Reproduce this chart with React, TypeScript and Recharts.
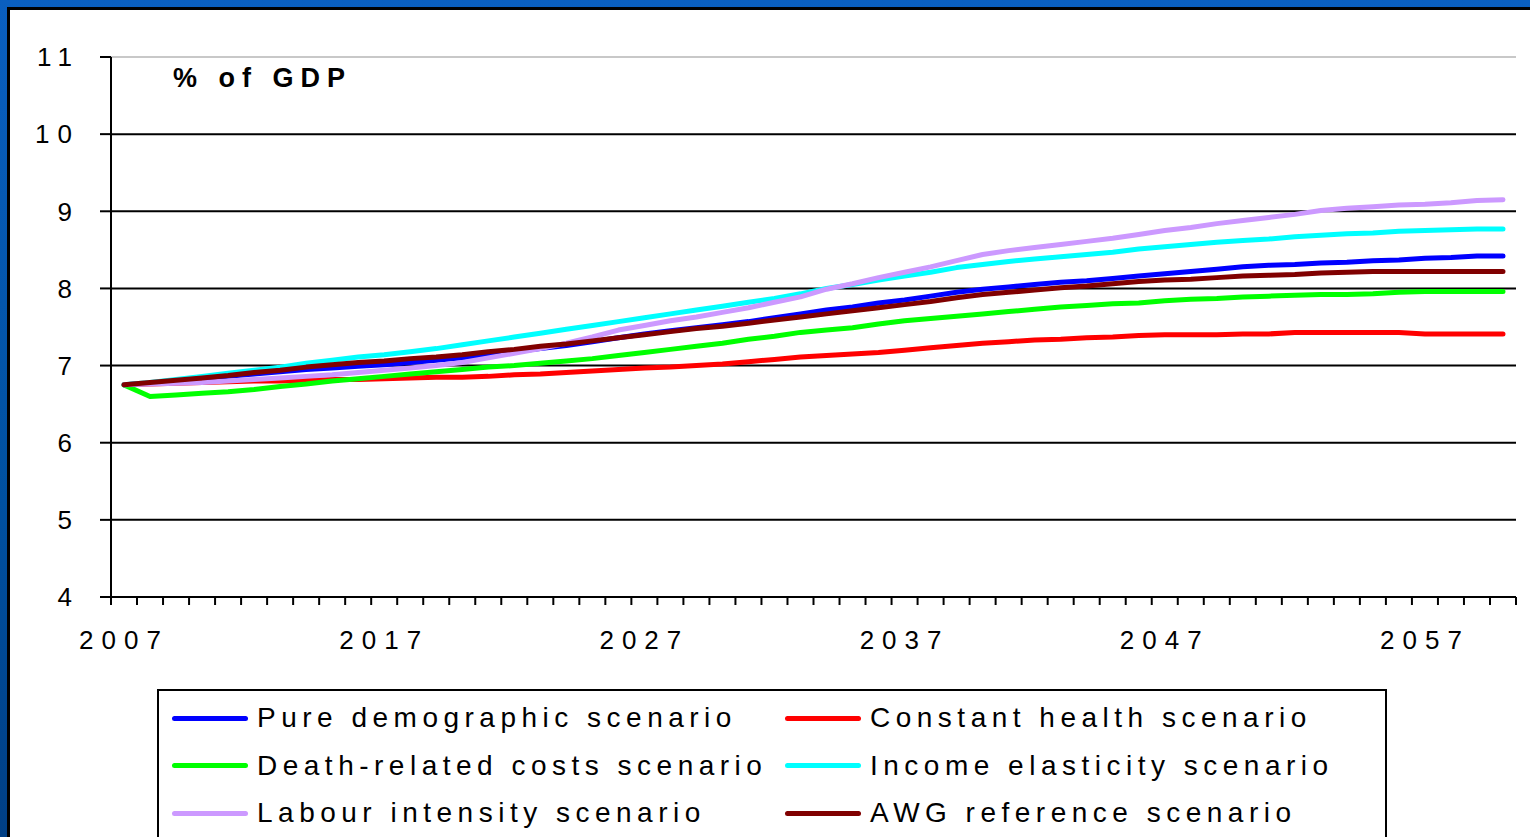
import React from 'react';
import { LineChart, Line, XAxis, YAxis, CartesianGrid, ReferenceLine } from 'recharts';

const years = [
  2007, 2008, 2009, 2010, 2011, 2012, 2013, 2014, 2015, 2016,
  2017, 2018, 2019, 2020, 2021, 2022, 2023, 2024, 2025, 2026,
  2027, 2028, 2029, 2030, 2031, 2032, 2033, 2034, 2035, 2036,
  2037, 2038, 2039, 2040, 2041, 2042, 2043, 2044, 2045, 2046,
  2047, 2048, 2049, 2050, 2051, 2052, 2053, 2054, 2055, 2056,
  2057, 2058, 2059, 2060,
];

const pureDemographic = [
  6.75, 6.77, 6.80, 6.83, 6.86, 6.89, 6.92, 6.95, 6.97, 6.99,
  7.01, 7.04, 7.07, 7.10, 7.14, 7.18, 7.22, 7.26, 7.31, 7.36,
  7.41, 7.45, 7.49, 7.53, 7.57, 7.62, 7.67, 7.72, 7.76, 7.81,
  7.85, 7.90, 7.95, 7.99, 8.02, 8.05, 8.08, 8.10, 8.13, 8.16,
  8.19, 8.22, 8.25, 8.28, 8.30, 8.31, 8.33, 8.34, 8.36, 8.37,
  8.39, 8.40, 8.42, 8.42,
];

const constantHealth = [
  6.75, 6.76, 6.77, 6.78, 6.79, 6.80, 6.80, 6.81, 6.82, 6.82,
  6.83, 6.84, 6.85, 6.85, 6.86, 6.88, 6.89, 6.91, 6.93, 6.95,
  6.97, 6.98, 7.00, 7.02, 7.05, 7.08, 7.11, 7.13, 7.15, 7.17,
  7.20, 7.23, 7.26, 7.29, 7.31, 7.33, 7.34, 7.36, 7.37, 7.39,
  7.40, 7.40, 7.40, 7.41, 7.41, 7.43, 7.43, 7.43, 7.43, 7.43,
  7.41, 7.41, 7.41, 7.41,
];

const deathRelated = [
  6.75, 6.60, 6.62, 6.64, 6.66, 6.69, 6.73, 6.76, 6.80, 6.83,
  6.86, 6.89, 6.92, 6.95, 6.98, 7.00, 7.03, 7.06, 7.09, 7.13,
  7.17, 7.21, 7.25, 7.29, 7.34, 7.38, 7.43, 7.46, 7.49, 7.54,
  7.58, 7.61, 7.64, 7.67, 7.70, 7.73, 7.76, 7.78, 7.80, 7.81,
  7.84, 7.86, 7.87, 7.89, 7.90, 7.91, 7.92, 7.92, 7.93, 7.95,
  7.96, 7.96, 7.96, 7.96,
];

const incomeElasticity = [
  6.75, 6.78, 6.82, 6.86, 6.90, 6.94, 6.98, 7.03, 7.07, 7.11,
  7.14, 7.18, 7.22, 7.27, 7.32, 7.37, 7.42, 7.47, 7.52, 7.57,
  7.62, 7.67, 7.72, 7.77, 7.82, 7.87, 7.93, 8.00, 8.05, 8.11,
  8.16, 8.21, 8.27, 8.31, 8.35, 8.38, 8.41, 8.44, 8.47, 8.51,
  8.54, 8.57, 8.60, 8.62, 8.64, 8.67, 8.69, 8.71, 8.72, 8.74,
  8.75, 8.76, 8.77, 8.77,
];

const labourIntensity = [
  6.75, 6.76, 6.77, 6.78, 6.80, 6.82, 6.84, 6.86, 6.88, 6.91,
  6.94, 6.97, 7.00, 7.04, 7.10, 7.16, 7.22, 7.29, 7.37, 7.46,
  7.52, 7.58, 7.63, 7.69, 7.75, 7.82, 7.89, 7.99, 8.06, 8.14,
  8.21, 8.28, 8.36, 8.44, 8.49, 8.53, 8.57, 8.61, 8.65, 8.70,
  8.75, 8.79, 8.84, 8.88, 8.92, 8.96, 9.01, 9.04, 9.06, 9.08,
  9.09, 9.11, 9.14, 9.15,
];

const awgReference = [
  6.75, 6.78, 6.81, 6.84, 6.87, 6.91, 6.94, 6.98, 7.01, 7.04,
  7.06, 7.09, 7.11, 7.14, 7.18, 7.21, 7.25, 7.28, 7.32, 7.36,
  7.40, 7.44, 7.48, 7.51, 7.55, 7.59, 7.63, 7.67, 7.71, 7.75,
  7.79, 7.83, 7.88, 7.92, 7.95, 7.98, 8.01, 8.03, 8.06, 8.09,
  8.11, 8.12, 8.14, 8.16, 8.17, 8.18, 8.20, 8.21, 8.22, 8.22,
  8.22, 8.22, 8.22, 8.22,
];

const yTicks = [4, 5, 6, 7, 8, 9, 10, 11];
const xLabelYears = [2007, 2017, 2027, 2037, 2047, 2057];

// series order = Excel drawing order, legend reads row by row
const series = [
  { key: 'pure', name: 'Pure demographic scenario', color: '#0000ff', values: pureDemographic },
  { key: 'constant', name: 'Constant health scenario', color: '#ff0000', values: constantHealth },
  { key: 'death', name: 'Death-related costs scenario', color: '#00ff00', values: deathRelated },
  { key: 'income', name: 'Income elasticity scenario', color: '#00ffff', values: incomeElasticity },
  { key: 'labour', name: 'Labour intensity scenario', color: '#cc99ff', values: labourIntensity },
  { key: 'awg', name: 'AWG reference scenario', color: '#800000', values: awgReference },
];

const data = years.map((year, i) => {
  const row: Record<string, number> = { year };
  series.forEach((s) => {
    row[s.key] = s.values[i];
  });
  return row;
});

// tick marks sit between the yearly categories, like Excel
const boundaryTicks = [...years.map((y) => y - 0.5), years[years.length - 1] + 0.5];
const xDomain = [years[0] - 0.5, years[years.length - 1] + 0.5];

const FONT = '"Liberation Sans", Arial, sans-serif';

const App: React.FC = () => {
  return (
    <div
      style={{
        position: 'absolute',
        left: 0,
        top: 0,
        width: 1530,
        height: 837,
        overflow: 'hidden',
        background: 'linear-gradient(180deg, #0a5fc0 0%, #00509f 60%, #003f85 100%)',
        fontFamily: FONT,
      }}
    >
      <div
        style={{
          position: 'absolute',
          left: 7,
          top: 7,
          width: 1560,
          height: 860,
          background: '#ffffff',
          borderLeft: '3px solid #000',
          borderTop: '3px solid #000',
        }}
      />

      <div style={{ position: 'absolute', left: 0, top: 0 }}>
        <LineChart
          width={1530}
          height={837}
          data={data}
          margin={{ top: 57, right: 14, bottom: 170, left: 0 }}
        >
          <CartesianGrid
            horizontal
            vertical={false}
            stroke="#000"
            strokeWidth={2}
            horizontalValues={[5, 6, 7, 8, 9, 10]}
          />
          <ReferenceLine y={11} stroke="#c8c8c8" strokeWidth={2} />
          <XAxis
            xAxisId={0}
            dataKey="year"
            type="number"
            domain={xDomain}
            ticks={boundaryTicks}
            interval={0}
            height={10}
            tickSize={8}
            tickFormatter={() => ''}
            axisLine={{ stroke: '#000', strokeWidth: 2 }}
            tickLine={{ stroke: '#000', strokeWidth: 2 }}
          />
          <XAxis
            xAxisId={1}
            dataKey="year"
            type="number"
            domain={xDomain}
            ticks={xLabelYears}
            interval={0}
            height={60}
            tickSize={0}
            tickMargin={24}
            axisLine={false}
            tickLine={false}
            tick={{ fill: '#000', fontSize: 26, letterSpacing: 8, fontFamily: FONT }}
          />
          <YAxis
            type="number"
            domain={[4, 11]}
            ticks={yTicks}
            interval={0}
            width={111}
            tickSize={11}
            tickMargin={20}
            axisLine={{ stroke: '#000', strokeWidth: 2 }}
            tickLine={{ stroke: '#000', strokeWidth: 2 }}
            tick={{ fill: '#000', fontSize: 26, letterSpacing: 8, fontFamily: FONT }}
          />
          {series.map((s) => (
            <Line
              key={s.key}
              xAxisId={0}
              dataKey={s.key}
              name={s.name}
              stroke={s.color}
              strokeWidth={5}
              strokeLinecap="round"
              strokeLinejoin="round"
              dot={false}
              activeDot={false}
              isAnimationActive={false}
            />
          ))}
        </LineChart>
      </div>

      <div
        style={{
          position: 'absolute',
          left: 173,
          top: 62,
          fontSize: 27,
          fontWeight: 'bold',
          letterSpacing: 7,
          color: '#000',
          lineHeight: '32px',
        }}
      >
        % of GDP
      </div>

      <div
        style={{
          position: 'absolute',
          left: 157,
          top: 689,
          width: 1226,
          height: 160,
          background: '#fff',
          border: '2px solid #000',
        }}
      >
        {series.map((s, i) => (
          <div
            key={s.key}
            style={{
              position: 'absolute',
              left: i % 2 === 0 ? 13 : 626,
              top: 10 + Math.floor(i / 2) * 47.5,
              height: 34,
              display: 'flex',
              alignItems: 'center',
              whiteSpace: 'nowrap',
            }}
          >
            <span
              style={{
                display: 'inline-block',
                width: 76,
                height: 5,
                borderRadius: 3,
                background: s.color,
                marginRight: 9,
              }}
            />
            <span style={{ fontSize: 28, letterSpacing: 5.5, color: '#000' }}>{s.name}</span>
          </div>
        ))}
      </div>
    </div>
  );
};

export default App;
